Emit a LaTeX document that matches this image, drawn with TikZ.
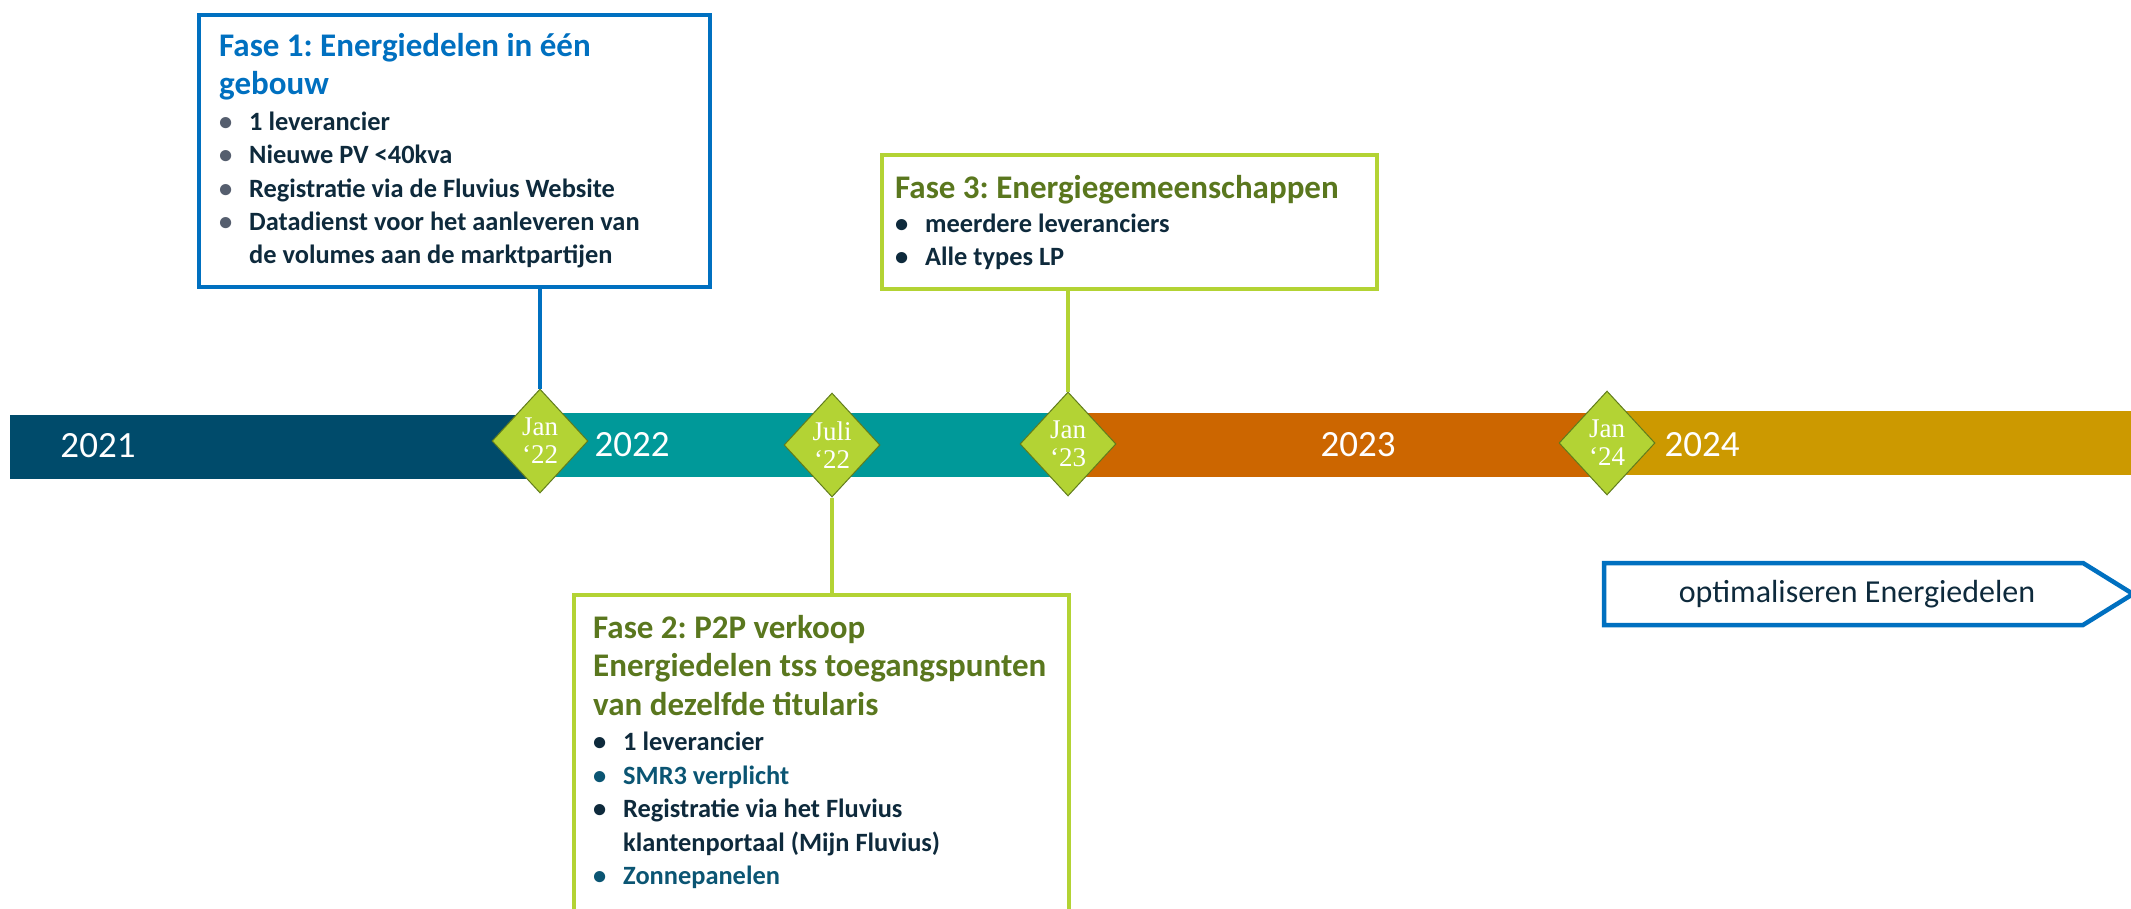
\documentclass[tikz,border=0pt]{standalone}
\usepackage{fontspec}
\setmainfont{Carlito}
\newfontfamily\datefont{Liberation Serif}
\usepackage{xcolor}
\usetikzlibrary{shapes.geometric, positioning, calc}

\definecolor{bar21}{HTML}{004B6B}
\definecolor{bar22}{HTML}{009999}
\definecolor{bar23}{HTML}{CC6600}
\definecolor{bar24}{HTML}{CC9900}
\definecolor{lime}{HTML}{B3D334}
\definecolor{limeline}{HTML}{617C1C}
\definecolor{fblue}{HTML}{0070C0}
\definecolor{olivetxt}{HTML}{5A771E}
\definecolor{ink}{HTML}{0E2A3C}
\definecolor{tealtxt}{HTML}{0B5573}
\definecolor{dotgray}{HTML}{555E6E}

% bullet line: bullet colour, text colour, text
\newcommand{\itm}[3]{\par\hangindent=30pt\hangafter=1\noindent\makebox[30pt][l]{\color{#1}\textbullet}{\color{#2}#3}}
\newcommand{\fasetitle}[2]{{\fontsize{33}{38.5}\selectfont\frenchspacing\spaceskip=0pt\xspaceskip=0pt\color{#1}#2\par}\vspace{2pt}}
\newcommand{\itemsize}[1]{\fontsize{26.4}{#1}\selectfont\frenchspacing\spaceskip=0pt\xspaceskip=0pt}

\begin{document}
\begin{tikzpicture}[x=1pt, y=-1pt,
    phase/.style={draw=#1, line width=4pt, anchor=north west, inner sep=0pt},
    phasetext/.style={anchor=north west, inner sep=0pt, text width=600pt, align=left, font=\bfseries},
    year/.style={text=white, inner sep=0pt, font=\fontsize{37}{44}\selectfont},
    datemark/.style={diamond, draw=limeline, line width=1pt, fill=lime, minimum width=96pt, minimum height=104pt, aspect=0.92, inner sep=0pt, align=center, text=white, font=\datefont\fontsize{27}{28}\selectfont},
    link/.style={draw=#1, line width=4pt}
]
    \useasboundingbox[fill=white] (0,0) rectangle (2131,909);

    % Timeline
    \fill[bar21] (10,415) rectangle (540,479);
    \fill[bar22] (540,413) rectangle (1068,477);
    \fill[bar23] (1068,413) rectangle (1607,477);
    \fill[bar24] (1607,411) rectangle (2131,475);

    \node[year] (y21) at (98,446) {2021};
    \node[year] (y22) at (632,445) {2022};
    \node[year] (y23) at (1358,445) {2023};
    \node[year] (y24) at (1702,445) {2024};

    % Phase boxes
    \node[phase=fblue, minimum width=511pt, minimum height=272pt] (f1) at (197,13) {};
    \node[phase=lime, minimum width=495pt, minimum height=134pt] (f3) at (880,153) {};
    \node[phase=lime, minimum width=495pt, minimum height=400pt] (f2) at (572,593) {};

    % Milestones
    \node[datemark] (d1) at (540,441) {Jan\\‘22};
    \node[datemark] (d2) at (832,445) {Juli\\‘22};
    \node[datemark] (d3) at (1068,444) {Jan\\‘23};
    \node[datemark] (d4) at (1607,443) {Jan\\‘24};

    \draw[link=fblue] (f1.south -| d1.north) -- (d1.north);
    \draw[link=lime] (f3.south -| d3.north) -- (d3.north);
    \draw[link=lime] (d2.south) -- (d2.south |- f2.north);

    % Phase texts
    \node[phasetext, below right=20pt and 22pt of f1.north west] (f1txt) {%
        \fasetitle{fblue}{Fase 1: Energiedelen in één\\gebouw}
        {\itemsize{33.4}
        \itm{dotgray}{ink}{1 leverancier}
        \itm{dotgray}{ink}{Nieuwe PV <40kva}
        \itm{dotgray}{ink}{Registratie via de Fluvius Website}
        \itm{dotgray}{ink}{Datadienst voor het aanleveren van\newline de volumes aan de marktpartijen}\par}};
    \node[phasetext, below right=22pt and 15pt of f3.north west] (f3txt) {%
        \fasetitle{olivetxt}{Fase 3: Energiegemeenschappen}
        {\itemsize{32.5}
        \itm{ink}{ink}{meerdere leveranciers}
        \itm{ink}{ink}{Alle types LP}\par}};
    \node[phasetext, below right=22pt and 21pt of f2.north west] (f2txt) {%
        \fasetitle{olivetxt}{Fase 2: P2P verkoop\\Energiedelen tss toegangspunten\\van dezelfde titularis}
        {\itemsize{33.5}
        \itm{ink}{ink}{1 leverancier}
        \itm{tealtxt}{tealtxt}{SMR3 verplicht}
        \itm{ink}{ink}{Registratie via het Fluvius\newline klantenportaal (Mijn Fluvius)}
        \itm{tealtxt}{tealtxt}{Zonnepanelen}\par}};

    % Outlook
    \node[text=ink, inner sep=0pt, font=\fontsize{32}{38}\selectfont] (optim) at (1857,594) {optimaliseren Energiedelen};
    \draw[fblue, line width=4.5pt, line join=miter] (1604,563) -- (2083,563) -- (2133,594) -- (2083,625) -- (1604,625) -- cycle;
\end{tikzpicture}
\end{document}
